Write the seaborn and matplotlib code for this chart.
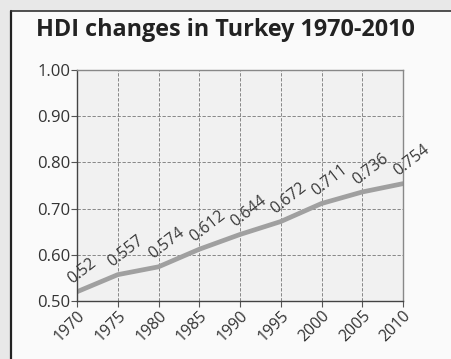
import matplotlib
matplotlib.use("Agg")
import matplotlib.pyplot as plt
import matplotlib.lines as mlines
import matplotlib.patches as mpatches
import seaborn as sns
import pandas as pd

years = [1970, 1975, 1980, 1985, 1990, 1995, 2000, 2005, 2010]
hdi = [0.52, 0.557, 0.574, 0.612, 0.644, 0.672, 0.711, 0.736, 0.754]
value_labels = ["0.52", "0.557", "0.574", "0.612", "0.644", "0.672", "0.711", "0.736", "0.754"]
y_ticks = [0.50, 0.60, 0.70, 0.80, 0.90, 1.00]

df = pd.DataFrame({"year": years, "hdi": hdi})

sns.set_theme(style="white")
plt.rcParams["font.family"] = ["Open Sans", "DejaVu Sans"]

W, H = 451, 359
fig = plt.figure(figsize=(W / 100, H / 100), dpi=100, facecolor="#e8e8e8")

# framed white panel behind everything
panel = mpatches.Rectangle((11 / W, 0), 1 - 11 / W, 1 - 11 / H, transform=fig.transFigure,
                           facecolor="#fafafa", edgecolor="none", zorder=-10)
fig.patches.append(panel)
fig.lines.append(mlines.Line2D([11 / W, 11 / W], [0, 1 - 11 / H], transform=fig.transFigure,
                               color="#222222", lw=1.6, zorder=-5))
fig.lines.append(mlines.Line2D([11 / W, 1], [1 - 11 / H, 1 - 11 / H], transform=fig.transFigure,
                               color="#333333", lw=1.2, zorder=-5))

ax = fig.add_axes([77 / W, 1 - 301 / H, (403 - 77) / W, (301 - 70) / H])
ax.set_zorder(1)
ax.set_facecolor("#f1f1f1")

sns.lineplot(data=df, x="year", y="hdi", ax=ax, color="#a0a0a0", linewidth=3.4)

for x, y, t in zip(years, hdi, value_labels):
    ax.annotate(t, (x, y), xytext=(-2, 3), textcoords="offset points",
                rotation=38, rotation_mode="anchor", ha="left", va="bottom",
                fontsize=11.5, color="#3a3a3a", annotation_clip=False)

ax.set_xlim(1970, 2010)
ax.set_ylim(0.50, 1.00)
ax.set_xticks(years)
ax.set_xticklabels([str(y) for y in years], rotation=45, ha="right",
                   rotation_mode="anchor", fontsize=11.5, color="#333333")
ax.set_yticks(y_ticks)
ax.set_yticklabels([f"{v:.2f}" for v in y_ticks], fontsize=12, color="#333333")
ax.set_xlabel("")
ax.set_ylabel("")

ax.grid(True, color="#777777", linestyle=(0, (4, 2)), linewidth=0.6)
ax.tick_params(axis="both", direction="out", length=4, width=0.8, color="#555555", pad=1,
               bottom=True, left=True)
for side in ["left", "bottom"]:
    ax.spines[side].set_color("#444444")
    ax.spines[side].set_linewidth(1.0)
for side in ["top", "right"]:
    ax.spines[side].set_color("#888888")
    ax.spines[side].set_linewidth(1.0)

fig.text(36 / W, 1 - 30 / H, "HDI changes in Turkey 1970-2010", ha="left", va="center",
         fontsize=16.8, fontweight="bold", color="#222222")

fig.savefig("out.png", dpi=100, facecolor=fig.get_facecolor())
